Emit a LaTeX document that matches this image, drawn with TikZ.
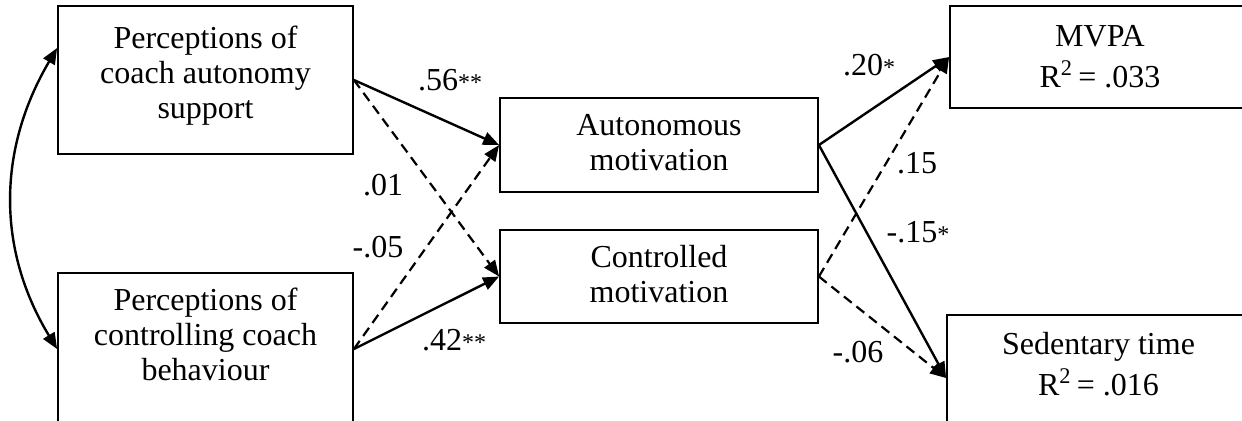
\documentclass[tikz,border=0pt]{standalone}
\usepackage{fontspec}
\setmainfont{Liberation Serif}
\usetikzlibrary{arrows.meta}
\newcommand{\sigstar}[1]{{\fontsize{12}{12}\selectfont #1}}

\begin{document}
\begin{tikzpicture}[x=0.5pt, y=-0.5pt,
  box/.style={draw, line width=0.9pt, inner sep=0pt},
  boxtext/.style={anchor=north, inner sep=0pt, yshift=#1, align=center,
    font=\fontsize{16}{17.5}\selectfont},
  boxtext/.default=-8.6pt,
  coef/.style={inner sep=0pt, font=\fontsize{16}{17.5}\selectfont},
  sigpath/.style={-{Triangle[length=8pt,width=6.5pt]}, line width=1.2pt},
  nspath/.style={sigpath, line width=1.1pt, dash pattern=on 5pt off 3pt}]
  \useasboundingbox (0,0) rectangle (1242,420);

  % Predictors
  \node[box, minimum width=147.5pt, minimum height=74pt] (cas) at (205.5,80) {};
  \node[boxtext=-10pt] (casT) at (cas.north) {Perceptions of\\coach autonomy\\support};
  \node[box, minimum width=147.5pt, minimum height=76pt] (ccb) at (205.5,349) {};
  \node[boxtext=-7.6pt] (ccbT) at (ccb.north) {Perceptions of\\controlling coach\\behaviour};

  % Mediators
  \node[box, minimum width=159pt, minimum height=47pt] (aut) at (659,145) {};
  \node[boxtext] (autT) at (aut.north) {Autonomous\\motivation};
  \node[box, minimum width=159pt, minimum height=46.5pt] (con) at (659,276.5) {};
  \node[boxtext=-8.1pt] (conT) at (con.north) {Controlled\\motivation};

  % Outcomes
  \node[box, minimum width=150pt, minimum height=51pt] (mvpa) at (1100,57) {};
  \node[boxtext=-10pt] (mvpaT) at (mvpa.north) {MVPA\\[3pt]R\textsuperscript{2}\,= .033};
  \node[box, minimum width=151.5pt, minimum height=63pt] (sed) at (1098.5,378) {};
  \node[boxtext=-9.1pt] (sedT) at (sed.north) {Sedentary time\\[3pt]R\textsuperscript{2}\,= .016};

  % Covariance
  \draw[{Triangle[length=8pt,width=6.5pt]}-{Triangle[length=8pt,width=6.5pt]}, line width=1.2pt]
    ([yshift=16pt]cas.west) .. controls (-3,150) and (-3,250) .. (ccb.west);

  % Paths to mediators
  \draw[sigpath] (cas.east) -- (aut.west);
  \draw[nspath] (cas.east) -- (con.west);
  \draw[nspath] (ccb.east) -- (aut.west);
  \draw[sigpath] (ccb.east) -- (con.west);

  % Paths to outcomes
  \draw[sigpath] (aut.east) -- (mvpa.west);
  \draw[sigpath] (aut.east) -- (sed.west);
  \draw[nspath] (con.east) -- (mvpa.west);
  \draw[nspath] (con.east) -- (sed.west);

  % Coefficients
  \node[coef] (b1) at (450,80) {.56\sigstar{**}};
  \node[coef] (b2) at (383,185) {.01};
  \node[coef] (b3) at (378,247) {-.05};
  \node[coef] (b4) at (454,340) {.42\sigstar{**}};
  \node[coef] (b5) at (869,65) {.20\sigstar{*}};
  \node[coef] (b6) at (917,163) {.15};
  \node[coef] (b7) at (918,232) {-.15\sigstar{*}};
  \node[coef] (b8) at (858,352) {-.06};

\end{tikzpicture}
\end{document}
